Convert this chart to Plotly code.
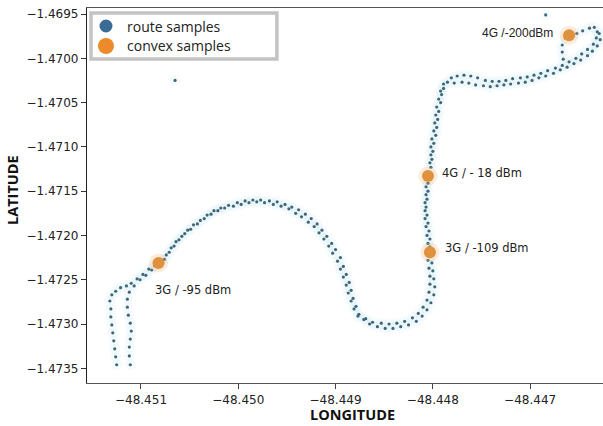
import plotly.graph_objects as go

# ---- data ----
route_lon = [
    -48.45125, -48.45126, -48.45127, -48.45128, -48.45129, -48.45130, -48.45131, -48.45131, -48.45132, -48.45130,
    -48.45126, -48.45121, -48.45115, -48.45110, -48.45104, -48.45098, -48.45092, -48.45086, -48.45079, -48.45074,
    -48.45069, -48.45064, -48.45058, -48.45052, -48.45046, -48.45039, -48.45032, -48.45025, -48.45018, -48.45010,
    -48.45001, -48.44993, -48.44985, -48.44977, -48.44968, -48.44960, -48.44952, -48.44945, -48.44938, -48.44931,
    -48.44925, -48.44919, -48.44914, -48.44909, -48.44904, -48.44900, -48.44895, -48.44892, -48.44889, -48.44886,
    -48.44884, -48.44882, -48.44879, -48.44876, -48.44871, -48.44865, -48.44857, -48.44849, -48.44841, -48.44833,
    -48.44825, -48.44817, -48.44811, -48.44806, -48.44802, -48.44799, -48.44798, -48.44799, -48.44800, -48.44801,
    -48.44802, -48.44803, -48.44803, -48.44804, -48.44805, -48.44806, -48.44807, -48.44806, -48.44805, -48.44805,
    -48.44804, -48.44802, -48.44801, -48.44800, -48.44799, -48.44797, -48.44796, -48.44795, -48.44794, -48.44792,
    -48.44791, -48.44789, -48.44785, -48.44781, -48.44775, -48.44768, -48.44761, -48.44754, -48.44746, -48.44739,
    -48.44732, -48.44725, -48.44718, -48.44710, -48.44703, -48.44696, -48.44689, -48.44682, -48.44674, -48.44667,
    -48.44660, -48.44653, -48.44647, -48.44641, -48.44635, -48.44632, -48.44631, -48.44634, -48.44639, -48.44646,
    -48.44652, -48.44658, -48.44664, -48.44667, -48.44667, -48.44666,
    # return lane
    -48.45111, -48.45112, -48.45112, -48.45111, -48.45110, -48.45111, -48.45113, -48.45114, -48.45114, -48.45112,
    -48.45107, -48.45101, -48.45095, -48.45089, -48.45083, -48.45076, -48.45071, -48.45066, -48.45061, -48.45055,
    -48.45049, -48.45042, -48.45035, -48.45028, -48.45021, -48.45014, -48.45005, -48.44997, -48.44989, -48.44981,
    -48.44973, -48.44964, -48.44956, -48.44948, -48.44941, -48.44935, -48.44928, -48.44922, -48.44917, -48.44912,
    -48.44907, -48.44903, -48.44898, -48.44895, -48.44892, -48.44889, -48.44887, -48.44884, -48.44881, -48.44877,
    -48.44869, -48.44862, -48.44853, -48.44845, -48.44837, -48.44829, -48.44821, -48.44815, -48.44810, -48.44806,
    -48.44804, -48.44803, -48.44803, -48.44804, -48.44805, -48.44805, -48.44806, -48.44807, -48.44808, -48.44808,
    -48.44808, -48.44807, -48.44807, -48.44803, -48.44802, -48.44802, -48.44801, -48.44799, -48.44798, -48.44797,
    -48.44796, -48.44794, -48.44792, -48.44789, -48.44778, -48.44770, -48.44763, -48.44756, -48.44748, -48.44741,
    -48.44734, -48.44727, -48.44720, -48.44712, -48.44705, -48.44698, -48.44691, -48.44684, -48.44676, -48.44669,
    -48.44662, -48.44655, -48.44648, -48.44641, -48.44636, -48.44631, -48.44628, -48.44629,
    # isolated samples
    -48.45065, -48.44684,
]
route_lat = [
    -1.47346, -1.47337, -1.47328, -1.47319, -1.47310, -1.47301, -1.47292, -1.47283, -1.47274, -1.47267,
    -1.47263, -1.47259, -1.47257, -1.47254, -1.47249, -1.47244, -1.47238, -1.47234, -1.47229, -1.47222,
    -1.47214, -1.47207, -1.47201, -1.47194, -1.47188, -1.47183, -1.47177, -1.47172, -1.47169, -1.47166,
    -1.47163, -1.47161, -1.47160, -1.47160, -1.47161, -1.47162, -1.47165, -1.47168, -1.47171, -1.47176,
    -1.47181, -1.47187, -1.47194, -1.47201, -1.47209, -1.47216, -1.47225, -1.47235, -1.47244, -1.47253,
    -1.47262, -1.47271, -1.47280, -1.47289, -1.47295, -1.47300, -1.47303, -1.47305, -1.47305, -1.47303,
    -1.47301, -1.47297, -1.47291, -1.47284, -1.47276, -1.47267, -1.47258, -1.47249, -1.47240, -1.47231,
    -1.47222, -1.47213, -1.47204, -1.47195, -1.47186, -1.47177, -1.47168, -1.47159, -1.47150, -1.47141,
    -1.47132, -1.47123, -1.47114, -1.47105, -1.47096, -1.47087, -1.47078, -1.47069, -1.47060, -1.47050,
    -1.47041, -1.47034, -1.47027, -1.47022, -1.47020, -1.47019, -1.47020, -1.47022, -1.47025, -1.47026,
    -1.47026, -1.47025, -1.47023, -1.47022, -1.47021, -1.47019, -1.47017, -1.47014, -1.47011, -1.47008,
    -1.47004, -1.47000, -1.46995, -1.46990, -1.46984, -1.46977, -1.46970, -1.46965, -1.46966, -1.46969,
    -1.46972, -1.46974, -1.46977, -1.46985, -1.46993, -1.47001,
    # return lane
    -1.47346, -1.47336, -1.47326, -1.47317, -1.47308, -1.47299, -1.47290, -1.47281, -1.47272, -1.47264,
    -1.47257, -1.47250, -1.47245, -1.47239, -1.47234, -1.47227, -1.47219, -1.47212, -1.47205, -1.47198,
    -1.47193, -1.47187, -1.47181, -1.47176, -1.47172, -1.47169, -1.47167, -1.47165, -1.47163, -1.47162,
    -1.47163, -1.47165, -1.47167, -1.47170, -1.47175, -1.47179, -1.47185, -1.47190, -1.47197, -1.47204,
    -1.47212, -1.47220, -1.47229, -1.47238, -1.47247, -1.47256, -1.47265, -1.47274, -1.47283, -1.47291,
    -1.47294, -1.47298, -1.47299, -1.47300, -1.47299, -1.47297, -1.47293, -1.47288, -1.47281, -1.47273,
    -1.47264, -1.47255, -1.47246, -1.47237, -1.47228, -1.47209, -1.47200, -1.47190, -1.47181, -1.47172,
    -1.47163, -1.47154, -1.47145, -1.47118, -1.47109, -1.47100, -1.47091, -1.47082, -1.47073, -1.47064,
    -1.47055, -1.47046, -1.47037, -1.47029, -1.47028, -1.47027, -1.47028, -1.47030, -1.47031, -1.47032,
    -1.47031, -1.47030, -1.47029, -1.47028, -1.47027, -1.47025, -1.47022, -1.47020, -1.47017, -1.47013,
    -1.47010, -1.47006, -1.47002, -1.46997, -1.46992, -1.46986, -1.46979, -1.46972,
    # isolated samples
    -1.47025, -1.46951,
]

convex_lon = [-48.45082, -48.44803, -48.44805, -48.44660]
convex_lat = [-1.47231, -1.47219, -1.47133, -1.46974]
convex_labels = ["3G / -95 dBm", "3G / -109 dBm", "4G / - 18 dBm", "4G /-200dBm"]

x_ticks = [-48.451, -48.450, -48.449, -48.448, -48.447]
x_ticktext = ["\u221248.451", "\u221248.450", "\u221248.449", "\u221248.448", "\u221248.447"]
y_ticks = [-1.4695, -1.4700, -1.4705, -1.4710, -1.4715, -1.4720, -1.4725, -1.4730, -1.4735]
y_ticktext = ["\u22121.4695", "\u22121.4700", "\u22121.4705", "\u22121.4710", "\u22121.4715",
              "\u22121.4720", "\u22121.4725", "\u22121.4730", "\u22121.4735"]

legend_names = ["route samples", "convex samples"]

ROUTE_C = "#3d6878"
CONVEX_C = "#e0913e"

fig = go.Figure()
# faint halo around the route
fig.add_trace(go.Scatter(x=route_lon, y=route_lat, mode="markers",
                         marker=dict(size=11, color="rgba(200,232,244,0.16)", line=dict(width=0)),
                         hoverinfo="skip", showlegend=False))
fig.add_trace(go.Scatter(x=route_lon, y=route_lat, mode="markers", name=legend_names[0],
                         marker=dict(size=3.2, color=ROUTE_C, line=dict(width=0)), showlegend=False))
fig.add_trace(go.Scatter(x=convex_lon, y=convex_lat, mode="markers",
                         marker=dict(size=19, color="rgba(240,180,110,0.25)", line=dict(width=0)),
                         hoverinfo="skip", showlegend=False))
fig.add_trace(go.Scatter(x=convex_lon, y=convex_lat, mode="markers", name=legend_names[1],
                         marker=dict(size=12, color=CONVEX_C, line=dict(width=0)), showlegend=False))

label_font = dict(family="DejaVu Sans", size=11.5, color="#222")
shifts = [(-6, -27, "left"), (13, 4, "left"), (12, 3, "left"), (-14, 2, "right")]
for lon, lat, txt, (dx, dy, anc) in zip(convex_lon, convex_lat, convex_labels, shifts):
    fig.add_annotation(x=lon, y=lat, text=txt, showarrow=False, xanchor=anc, yanchor="middle",
                       xshift=dx, yshift=dy,
                       font=label_font if anc == "left" else dict(family="Liberation Sans", size=12, color="#222"))

# axis titles
fig.add_annotation(xref="paper", yref="paper", x=0.5155, y=-0.0853, text="<b>LONGITUDE</b>",
                   showarrow=False, xanchor="center", yanchor="middle",
                   font=dict(family="Open Sans", size=14.5, color="#111"))
fig.add_annotation(xref="paper", yref="paper", x=-0.1434, y=0.5147, text="<b>LATITUDE</b>",
                   showarrow=False, xanchor="center", yanchor="middle", textangle=-90,
                   font=dict(family="Open Sans", size=14.5, color="#111"))

# manual legend
fig.add_shape(type="rect", xref="paper", yref="paper", x0=0.0078, x1=0.368, y0=0.864, y1=0.9867,
              line=dict(color="#c4c4c4", width=3.5), fillcolor="white", layer="above")
fig.add_shape(type="circle", xref="paper", yref="paper", x0=0.0242, x1=0.0494, y0=0.9347, y1=0.9693,
              line=dict(width=0), fillcolor="#3b6c95", layer="above")
fig.add_shape(type="circle", xref="paper", yref="paper", x0=0.0213, x1=0.0523, y0=0.8773, y1=0.92,
              line=dict(width=0), fillcolor="#ec8a2c", layer="above")
fig.add_annotation(xref="paper", yref="paper", x=0.0736, y=0.952, text=legend_names[0], showarrow=False,
                   xanchor="left", yanchor="middle", font=dict(family="Open Sans", size=14, color="#222"))
fig.add_annotation(xref="paper", yref="paper", x=0.0736, y=0.8987, text=legend_names[1], showarrow=False,
                   xanchor="left", yanchor="middle", font=dict(family="Open Sans", size=14, color="#222"))

fig.update_layout(
    width=603, height=426,
    margin=dict(l=87, r=0, t=8, b=43),
    paper_bgcolor="white", plot_bgcolor="white",
    showlegend=False,
    font=dict(family="DejaVu Sans", size=12, color="#222"),
    xaxis=dict(range=[-48.451555, -48.446251], showgrid=False, zeroline=False,
               showline=True, linecolor="#555", linewidth=1.3, mirror=True,
               ticks="outside", ticklen=5, tickcolor="#444", tickwidth=1,
               tickvals=x_ticks, ticktext=x_ticktext, tickfont=dict(family="DejaVu Sans", size=12, color="#222")),
    yaxis=dict(range=[-1.473666, -1.469432], showgrid=False, zeroline=False,
               showline=True, linecolor="#222", linewidth=1.3, mirror=False,
               ticks="outside", ticklen=5, tickcolor="#333", tickwidth=1,
               tickvals=y_ticks, ticktext=y_ticktext, tickfont=dict(family="DejaVu Sans", size=12, color="#222")),
)

fig.write_html("out.html", config={"displayModeBar": False},
               post_script="document.body.style.margin='0';document.body.style.overflow='hidden';")
